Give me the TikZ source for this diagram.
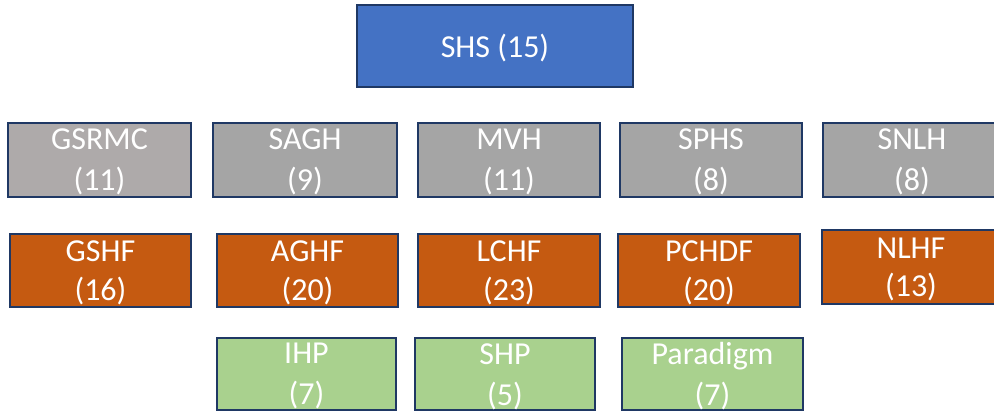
\documentclass[tikz,border=0pt]{standalone}
\usepackage{fontspec}
\setmainfont{Carlito}
\definecolor{bordc}{HTML}{1F3864}
\definecolor{bluef}{HTML}{4472C4}
\definecolor{grayf}{HTML}{A5A5A5}
\definecolor{warmgray}{HTML}{AEAAAA}
\definecolor{orangef}{HTML}{C55A11}
\definecolor{greenf}{HTML}{A9D18E}
\tikzset{
  boxbase/.style={draw=bordc, line width=2.2pt, inner sep=0pt, outer sep=0pt, rectangle},
  bluebox/.style={boxbase, fill=bluef},
  graybox/.style={boxbase, fill=grayf},
  wgraybox/.style={boxbase, fill=warmgray},
  orangebox/.style={boxbase, fill=orangef},
  greenbox/.style={boxbase, fill=greenf},
  txt/.style={text=white, font=\fontsize{32}{38}\selectfont, anchor=base, inner sep=0pt}
}
\begin{document}
\begin{tikzpicture}[x=1pt,y=-1pt]
\useasboundingbox (0,0) rectangle (994,411);
\clip (0,0) rectangle (994,411);
% top
\node[bluebox, minimum width=276pt, minimum height=82pt] (shs) at (495,46) {};
\node[txt] (shst) at (495,58) {SHS (15)};
% row 1
\node[wgraybox, minimum width=183pt, minimum height=74pt] (gsrmc) at (99.5,160) {};
\node[graybox, minimum width=184pt, minimum height=74pt] (sagh) at (305,160) {};
\node[graybox, minimum width=182pt, minimum height=74pt] (mvh) at (509,160) {};
\node[graybox, minimum width=182pt, minimum height=74pt] (sphs) at (711,160) {};
\node[graybox, minimum width=178pt, minimum height=74pt] (snlh) at (912,160) {};
\node[txt] (gsrmc1) at (99.5,150) {GSRMC};
\node[txt] (gsrmc2) at (99.5,191) {(11)};
\node[txt] (sagh1) at (305,150) {SAGH};
\node[txt] (sagh2) at (305,191) {(9)};
\node[txt] (mvh1) at (509,150) {MVH};
\node[txt] (mvh2) at (509,191) {(11)};
\node[txt] (sphs1) at (711,150) {SPHS};
\node[txt] (sphs2) at (711,191) {(8)};
\node[txt] (snlh1) at (912,150) {SNLH};
\node[txt] (snlh2) at (912,191) {(8)};
% row 2
\node[orangebox, minimum width=181pt, minimum height=73pt] (gshf) at (100.5,270.5) {};
\node[orangebox, minimum width=181pt, minimum height=73pt] (aghf) at (307.5,270.5) {};
\node[orangebox, minimum width=182pt, minimum height=73pt] (lchf) at (509,270.5) {};
\node[orangebox, minimum width=182pt, minimum height=73pt] (pchdf) at (709,270.5) {};
\node[orangebox, minimum width=178pt, minimum height=74pt] (nlhf) at (911,267) {};
\node[txt] (gshf1) at (100.5,262) {GSHF};
\node[txt] (gshf2) at (100.5,301) {(16)};
\node[txt] (aghf1) at (307.5,262) {AGHF};
\node[txt] (aghf2) at (307.5,301) {(20)};
\node[txt] (lchf1) at (509,262) {LCHF};
\node[txt] (lchf2) at (509,301) {(23)};
\node[txt] (pchdf1) at (709,262) {PCHDF};
\node[txt] (pchdf2) at (709,301) {(20)};
\node[txt] (nlhf1) at (911,259) {NLHF};
\node[txt] (nlhf2) at (911,297) {(13)};
% row 3
\node[greenbox, minimum width=179pt, minimum height=72pt] (ihp) at (306.5,374) {};
\node[greenbox, minimum width=180pt, minimum height=72pt] (shp) at (505,374) {};
\node[greenbox, minimum width=181pt, minimum height=72pt] (parad) at (712.5,374) {};
\node[txt] (ihp1) at (306.5,364) {IHP};
\node[txt] (ihp2) at (306.5,405) {(7)};
\node[txt] (shp1) at (505,365) {SHP};
\node[txt] (shp2) at (505,406) {(5)};
\node[txt] (parad1) at (712.5,365) {Paradigm};
\node[txt] (parad2) at (712.5,406) {(7)};
\end{tikzpicture}
\end{document}
